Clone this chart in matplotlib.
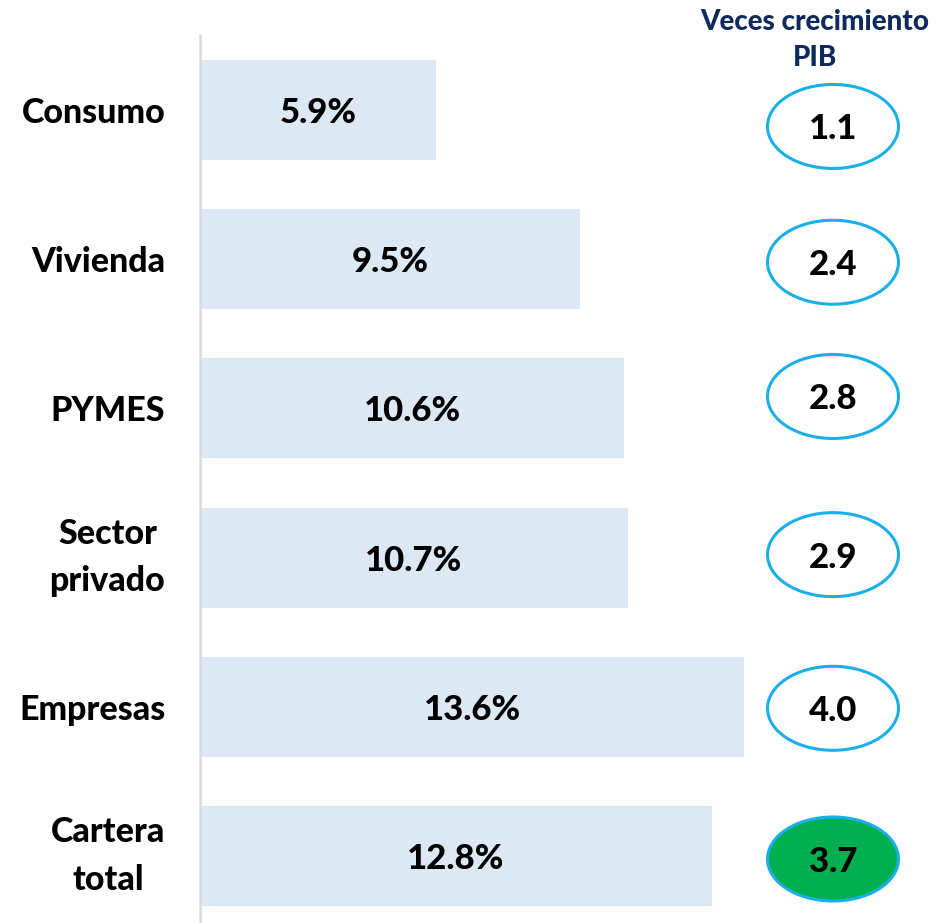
import matplotlib.pyplot as plt
from matplotlib.patches import Ellipse

categories = ['Consumo', 'Vivienda', 'PYMES', 'Sector\nprivado', 'Empresas', 'Cartera\ntotal']
growth = [5.9, 9.5, 10.6, 10.7, 13.6, 12.8]
times_gdp = [1.1, 2.4, 2.8, 2.9, 4.0, 3.7]

# small vertical nudges of the ovals (layout, in bar units)
oval_shift = [0.11, 0.02, -0.08, -0.02, 0.01, 0.02]

W, H = 943, 923
fig = plt.figure(figsize=(W / 100, H / 100), dpi=100)
plt.rcParams['font.family'] = ['Lato', 'DejaVu Sans']
WT = 900

# axes from x=200px to right edge, y from 35px to bottom
ax = fig.add_axes([200 / W, 0, 743 / W, (H - 35) / H])
y = list(range(len(categories)))
ax.barh(y, growth, height=0.67, color='#DCE8F3', zorder=1)
ax.set_xlim(0, 743 / 40)
ax.set_ylim(5.449, -0.503)

for s in ['top', 'right', 'bottom']:
    ax.spines[s].set_visible(False)
ax.spines['left'].set_color('#D9D9D9')
ax.spines['left'].set_linewidth(1.8)
ax.set_xticks([])
ax.set_yticks(y)
ax.set_yticklabels(categories, fontsize=24.5, fontweight=WT, linespacing=1.6,
                   ha='right', multialignment='center')
ax.tick_params(axis='y', length=0, pad=25)
for lbl in ax.get_yticklabels():
    if '\n' in lbl.get_text():
        lbl.set_va('center')

dy = 0.02  # nudge text down a little
for i, v in enumerate(growth):
    ax.text(v / 2, i + dy, f'{v:.1f}%', ha='center', va='center',
            fontsize=25, fontweight=WT, color='black', zorder=3)

px_y = 888 / (5.449 + 0.503)  # px per bar unit
oval_x = (833 - 200) / 40
for i, t in enumerate(times_gdp):
    last = i == len(times_gdp) - 1
    yc = i + oval_shift[i]
    e = Ellipse((oval_x, yc), width=131 / 40, height=84 / px_y,
                facecolor='#00B050' if last else 'white',
                edgecolor='#1AAFE8', linewidth=2.2, zorder=2, clip_on=False)
    ax.add_patch(e)
    ax.text(oval_x, yc + dy, f'{t:.1f}', ha='center', va='center',
            fontsize=25, fontweight=WT, color='black', zorder=3)

fig.text(815 / W, 1 - 22 / H, 'Veces crecimiento', ha='center', va='center',
         fontsize=20, fontweight=WT, color='#0E2A5C')
fig.text(815 / W, 1 - 58 / H, 'PIB', ha='center', va='center',
         fontsize=20, fontweight=WT, color='#0E2A5C')

fig.savefig('out.png', dpi=100)
